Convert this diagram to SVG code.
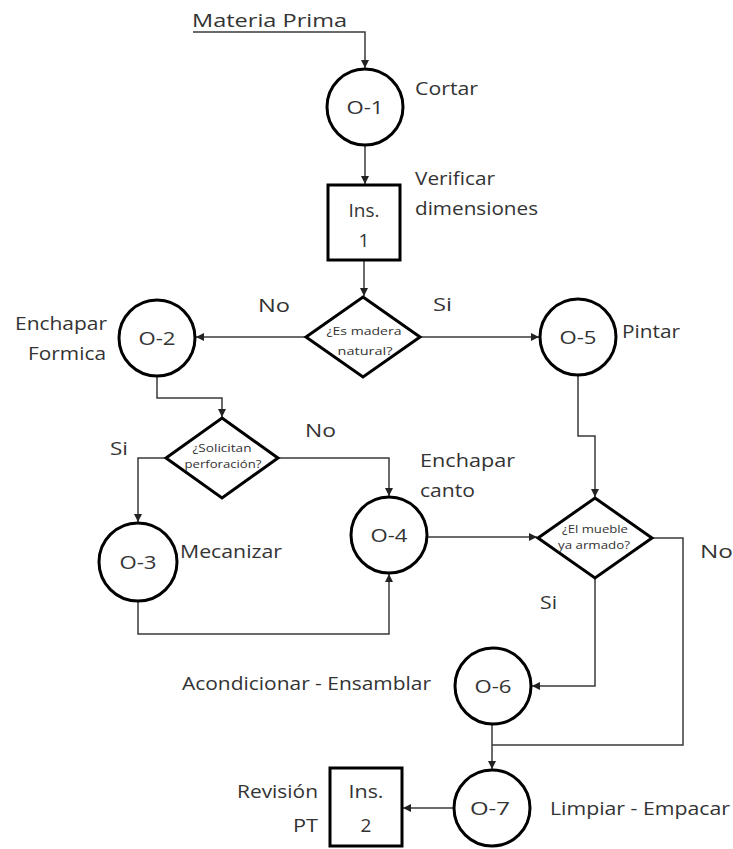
<svg xmlns="http://www.w3.org/2000/svg" width="733" height="849" viewBox="0 0 733 849">
<style>
.bg{fill:#fff}
.node{fill:#fff;stroke:#000;stroke-width:3}
.lbl{font-family:"Open Sans","Liberation Sans",sans-serif;font-size:19px;fill:#333}
.in{font-family:"Open Sans","Liberation Sans",sans-serif;font-size:19px;fill:#333;text-anchor:middle}
.sm{font-family:"Open Sans","Liberation Sans",sans-serif;font-size:11.5px;fill:#333;text-anchor:middle}
.end{text-anchor:end}
.con{fill:none;stroke:#3a3a3a;stroke-width:1.5}
</style>
<defs>
<marker id="arr" markerWidth="9" markerHeight="9" refX="8" refY="4" orient="auto" markerUnits="userSpaceOnUse">
<path d="M0,0 L8,4 L0,8 z" fill="#222"/>
</marker>
</defs>
<rect class="bg" width="733" height="849"/>

<g id="connectors">
<path class="con" d="M193,32 H365 V68" marker-end="url(#arr)"/>
<path class="con" d="M365,145 V184" marker-end="url(#arr)"/>
<path class="con" d="M364,260 V296" marker-end="url(#arr)"/>
<path class="con" d="M306,337 H196" marker-end="url(#arr)"/>
<path class="con" d="M420,337 H539" marker-end="url(#arr)"/>
<path class="con" d="M157,376 V398 H222 V417" marker-end="url(#arr)"/>
<path class="con" d="M166,458 H138 V522" marker-end="url(#arr)"/>
<path class="con" d="M278,458 H389 V496" marker-end="url(#arr)"/>
<path class="con" d="M138,601 V634 H389 V574" marker-end="url(#arr)"/>
<path class="con" d="M428,537 H537" marker-end="url(#arr)"/>
<path class="con" d="M578,375 V436 H595 V497" marker-end="url(#arr)"/>
<path class="con" d="M652,538 H683 V745 H492"/>
<path class="con" d="M595,578 V686 H532" marker-end="url(#arr)"/>
<path class="con" d="M492,724 V769" marker-end="url(#arr)"/>
<path class="con" d="M453,808 H403" marker-end="url(#arr)"/>
</g>

<g id="start">
<text class="lbl" x="192" y="27" textLength="155" lengthAdjust="spacingAndGlyphs">Materia Prima</text>
</g>

<g id="O-1">
<circle class="node" cx="365" cy="107" r="38"/>
<text class="in" x="365" y="114" textLength="37" lengthAdjust="spacingAndGlyphs">O-1</text>
<text class="lbl" x="415" y="95" textLength="63" lengthAdjust="spacingAndGlyphs">Cortar</text>
</g>

<g id="Ins-1">
<rect class="node" x="328" y="185" width="72" height="75"/>
<text class="in" x="364" y="217" textLength="31" lengthAdjust="spacingAndGlyphs">Ins.</text>
<text class="in" x="364" y="247">1</text>
<text class="lbl" x="415" y="185" textLength="80" lengthAdjust="spacingAndGlyphs">Verificar</text>
<text class="lbl" x="415" y="215" textLength="123" lengthAdjust="spacingAndGlyphs">dimensiones</text>
</g>

<g id="D-1">
<polygon class="node" points="363,297 420,337 363,377 306,337"/>
<text class="sm" x="364" y="335" textLength="75" lengthAdjust="spacingAndGlyphs">¿Es madera</text>
<text class="sm" x="365" y="355" textLength="55" lengthAdjust="spacingAndGlyphs">natural?</text>
<text class="lbl" x="258" y="312" textLength="32" lengthAdjust="spacingAndGlyphs">No</text>
<text class="lbl" x="433" y="311" textLength="19" lengthAdjust="spacingAndGlyphs">Si</text>
</g>

<g id="O-2">
<circle class="node" cx="157" cy="338" r="38"/>
<text class="in" x="157" y="345" textLength="37" lengthAdjust="spacingAndGlyphs">O-2</text>
<text class="lbl end" x="107" y="330" textLength="92" lengthAdjust="spacingAndGlyphs">Enchapar</text>
<text class="lbl end" x="106" y="360" textLength="78" lengthAdjust="spacingAndGlyphs">Formica</text>
</g>

<g id="O-5">
<circle class="node" cx="578" cy="337" r="38"/>
<text class="in" x="578" y="344" textLength="37" lengthAdjust="spacingAndGlyphs">O-5</text>
<text class="lbl" x="622" y="338" textLength="58" lengthAdjust="spacingAndGlyphs">Pintar</text>
</g>

<g id="D-2">
<polygon class="node" points="222,418 278,458 222,498 166,458"/>
<text class="sm" x="222" y="452" textLength="59" lengthAdjust="spacingAndGlyphs">¿Solicitan</text>
<text class="sm" x="223" y="468" textLength="77" lengthAdjust="spacingAndGlyphs">perforación?</text>
<text class="lbl" x="110" y="455" textLength="18" lengthAdjust="spacingAndGlyphs">Si</text>
<text class="lbl" x="305" y="437" textLength="31" lengthAdjust="spacingAndGlyphs">No</text>
</g>

<g id="O-3">
<circle class="node" cx="138" cy="562" r="39"/>
<text class="in" x="138" y="569" textLength="37" lengthAdjust="spacingAndGlyphs">O-3</text>
<text class="lbl" x="180" y="558" textLength="102" lengthAdjust="spacingAndGlyphs">Mecanizar</text>
</g>

<g id="O-4">
<circle class="node" cx="389" cy="535" r="38"/>
<text class="in" x="389" y="542" textLength="37" lengthAdjust="spacingAndGlyphs">O-4</text>
<text class="lbl" x="420" y="467" textLength="95" lengthAdjust="spacingAndGlyphs">Enchapar</text>
<text class="lbl" x="420" y="497" textLength="55" lengthAdjust="spacingAndGlyphs">canto</text>
</g>

<g id="D-3">
<polygon class="node" points="595,498 652,538 595,578 538,538"/>
<text class="sm" x="595" y="533" textLength="66" lengthAdjust="spacingAndGlyphs">¿El mueble</text>
<text class="sm" x="594" y="549" textLength="72" lengthAdjust="spacingAndGlyphs">ya armado?</text>
<text class="lbl" x="700" y="558" textLength="33" lengthAdjust="spacingAndGlyphs">No</text>
<text class="lbl" x="540" y="609" textLength="17" lengthAdjust="spacingAndGlyphs">Si</text>
</g>

<g id="O-6">
<circle class="node" cx="493" cy="686" r="38"/>
<text class="in" x="493" y="693" textLength="37" lengthAdjust="spacingAndGlyphs">O-6</text>
<text class="lbl" x="182" y="690" textLength="249" lengthAdjust="spacingAndGlyphs">Acondicionar - Ensamblar</text>
</g>

<g id="O-7">
<circle class="node" cx="492" cy="808" r="38"/>
<text class="in" x="490" y="815" textLength="40" lengthAdjust="spacingAndGlyphs">O-7</text>
<text class="lbl" x="550" y="815" textLength="180" lengthAdjust="spacingAndGlyphs">Limpiar - Empacar</text>
</g>

<g id="Ins-2">
<rect class="node" x="330" y="768" width="72" height="78"/>
<text class="in" x="366" y="798" textLength="35" lengthAdjust="spacingAndGlyphs">Ins.</text>
<text class="in" x="366" y="832">2</text>
<text class="lbl end" x="318" y="798" textLength="81" lengthAdjust="spacingAndGlyphs">Revisión</text>
<text class="lbl end" x="318" y="832" textLength="25" lengthAdjust="spacingAndGlyphs">PT</text>
</g>
</svg>
